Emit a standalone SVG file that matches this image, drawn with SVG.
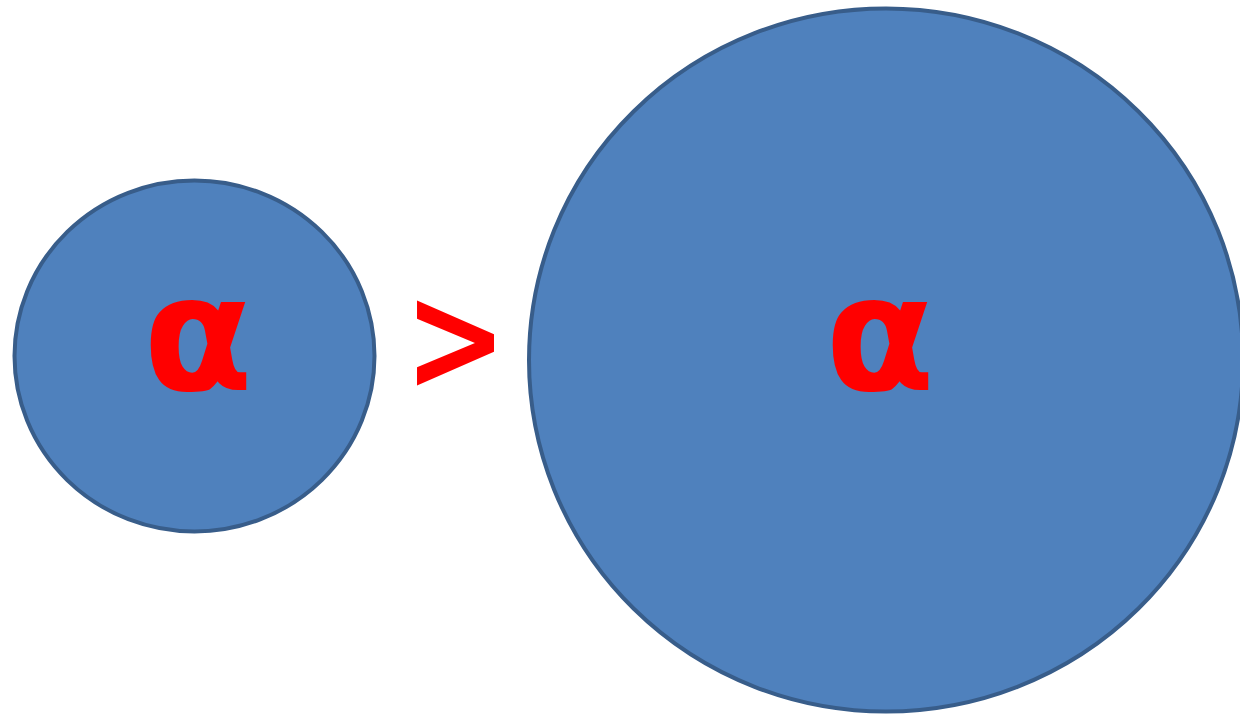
<svg xmlns="http://www.w3.org/2000/svg" width="1240" height="716" viewBox="0 0 1240 716">
<style>
.shape{fill:#4F81BD;stroke:#385D8A;stroke-width:4}
.lbl{font-family:"DejaVu Sans",sans-serif;font-weight:bold;font-size:160px;fill:#FF0000;text-anchor:middle}
</style>
<rect width="1240" height="716" fill="#FFFFFF"/>
<g id="small-circle">
<ellipse class="shape" cx="194.5" cy="356" rx="180" ry="175.5"/>
<text class="lbl" x="198" y="390">α</text>
</g>
<g id="greater-than">
<text class="lbl" transform="translate(455.5,0) scale(0.82,1)" x="0" y="390" style="font-size:150px">&gt;</text>
</g>
<g id="big-circle">
<ellipse class="shape" cx="886" cy="360" rx="357" ry="351.5"/>
<text class="lbl" x="880" y="390">α</text>
</g>
<g id="connectors"/>
</svg>
